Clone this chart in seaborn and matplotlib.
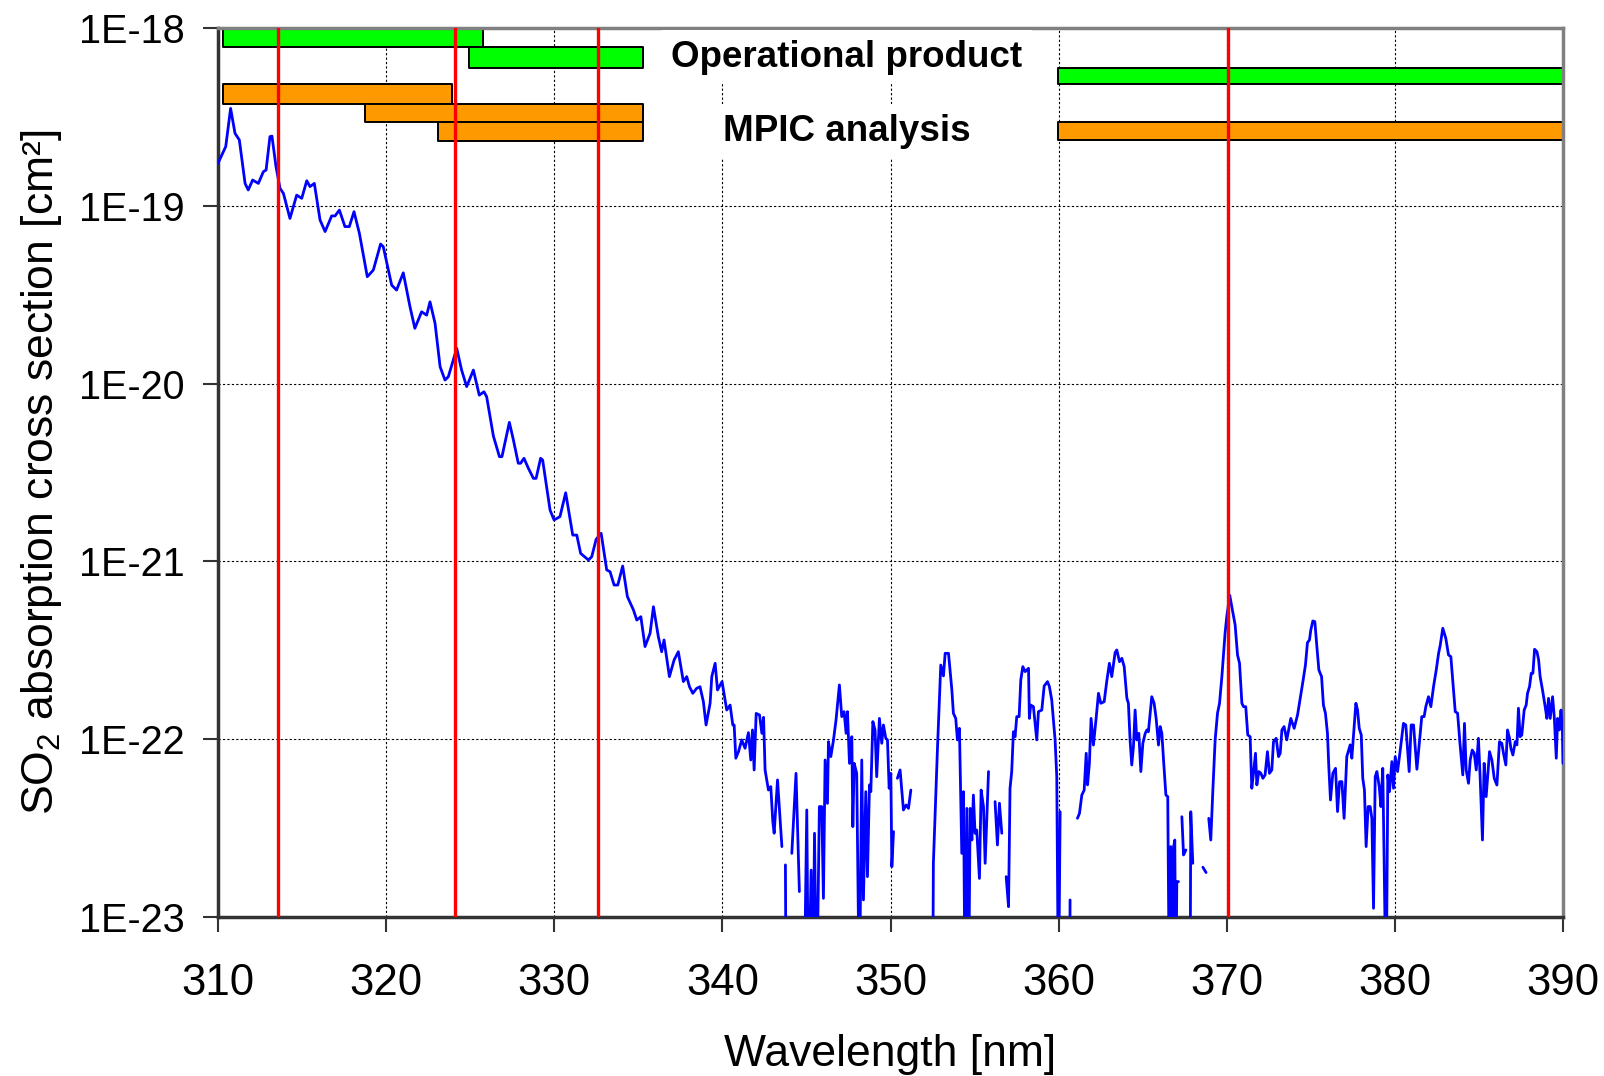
import numpy as np
import pandas as pd
import matplotlib
matplotlib.use("Agg")
import matplotlib.pyplot as plt
import seaborn as sns
from matplotlib.ticker import FixedLocator, FuncFormatter, NullLocator

NAN = np.nan
LOW = -23.5  # values that fall below the 1E-23 axis floor

# ---- SO2 absorption spectrum (wavelength in nm, log10 of cross section in cm^2); NaN = gap
wavelength_nm = [
    310.00, 310.32, 310.46, 310.75, 311.01, 311.27, 311.61, 311.80, 312.06, 312.40,
    312.70, 312.86, 313.09, 313.21, 313.45, 313.69, 313.89, 314.28, 314.68, 314.98,
    315.28, 315.47, 315.73, 316.07, 316.37, 316.76, 316.96, 317.22, 317.55, 317.81,
    318.09, 318.41, 318.88, 319.24, 319.67, 319.83, 320.33, 320.62, 321.02, 321.42,
    321.71, 322.11, 322.41, 322.61, 322.91, 323.21, 323.50, 323.70, 324.20, 324.49,
    324.79, 325.19, 325.54, 325.82, 325.98, 326.38, 326.74, 326.89, 327.33, 327.57,
    327.86, 328.00, 328.20, 328.46, 328.76, 328.92, 329.19, 329.31, 329.75, 329.99,
    330.34, 330.68, 331.10, 331.34, 331.57, 332.03, 332.23, 332.49, 332.79, 333.12,
    333.32, 333.56, 333.78, 334.07, 334.35, 334.71, 334.91, 335.15, 335.40, 335.70,
    335.90, 336.19, 336.39, 336.53, 336.85, 337.13, 337.38, 337.68, 337.88, 338.04,
    338.24, 338.47, 338.67, 338.87, 339.03, 339.27, 339.37, 339.57, 339.71, 339.98,
    340.26, 340.46, 340.62, 340.70, 340.80, 340.96, 341.15, 341.35, 341.55, 341.69,
    341.79, 341.89, 342.01, 342.21, 342.35, 342.45, 342.54, 342.74, 342.88, 343.00,
    343.08, 343.28, 343.54, NAN,
    343.75, 343.79, NAN,
    344.13, 344.38, 344.58, NAN,
    344.86, 345.02, 345.12, 345.28, 345.38, 345.48, 345.61, 345.77, 345.91, 346.01,
    346.11, 346.25, 346.31, 346.45, 346.61, 346.76, 346.96, 347.10, 347.24, 347.36,
    347.44, 347.56, 347.70, 347.76, 347.84, 347.99, 348.15, 348.29, 348.39, 348.53,
    348.63, 348.75, 348.83, 348.95, 349.08, 349.18, 349.34, 349.48, 349.58, 349.72,
    349.82, 349.92, 350.02, 350.08, 350.18, NAN,
    350.41, 350.57, 350.77, 350.93, 351.07, 351.21, NAN,
    352.51, 352.55, 352.79, 352.99, 353.15, 353.25, 353.45, 353.65, 353.74, 353.88,
    353.98, 354.10, 354.24, 354.34, 354.44, 354.54, 354.64, 354.74, 354.84, 354.93,
    355.03, 355.13, 355.29, 355.39, 355.53, 355.63, 355.83, NAN,
    356.22, 356.36, 356.48, 356.62, NAN,
    356.88, 357.02, 357.11, 357.21, 357.31, 357.41, 357.51, 357.65, 357.75, 357.87,
    358.01, 358.21, 358.26, 358.34, 358.50, 358.70, 358.80, 359.00, 359.14, 359.34,
    359.45, 359.59, 359.79, 359.89, 359.99, 360.09, NAN,
    360.66, 360.68, NAN,
    361.12, 361.24, 361.38, 361.52, 361.64, 361.72, 361.83, 361.93, 362.07, 362.23,
    362.37, 362.51, 362.71, 362.86, 363.02, 363.16, 363.36, 363.46, 363.62, 363.76,
    363.90, 364.06, 364.15, 364.25, 364.35, 364.45, 364.55, 364.65, 364.77, 364.89,
    365.01, 365.15, 365.25, 365.34, 365.54, 365.68, 365.80, 365.94, 366.04, 366.14,
    366.24, 366.38, 366.49, 366.59, 366.67, 366.77, 366.84, 366.91, 366.97, 367.03,
    367.13, NAN,
    367.33, 367.43, 367.57, NAN,
    367.82, 367.86, 367.98, NAN,
    368.58, 368.77, NAN,
    368.93, 369.05, 369.17, 369.31, 369.45, 369.57, 369.71, 369.90, 370.00, 370.18,
    370.30, 370.50, 370.64, 370.76, 370.90, 371.00, 371.13, 371.25, 371.39, 371.49,
    371.59, 371.71, 371.79, 371.91, 372.03, 372.15, 372.28, 372.42, 372.54, 372.68,
    372.78, 372.94, 373.08, 373.18, 373.28, 373.41, 373.57, 373.81, 374.01, 374.21,
    374.37, 374.53, 374.68, 374.80, 374.92, 375.00, 375.12, 375.24, 375.36, 375.48,
    375.64, 375.75, 375.87, 375.99, 376.07, 376.17, 376.31, 376.47, 376.59, 376.71,
    376.85, 376.98, 377.14, 377.34, 377.44, 377.68, 377.78, 377.88, 378.00, 378.09,
    378.19, 378.29, 378.41, 378.53, 378.63, 378.73, 378.83, 378.93, 379.07, 379.17,
    379.28, 379.36, 379.48, 379.58, 379.68, 379.82, 379.92, 380.02, 380.16, 380.32,
    380.51, 380.65, 380.85, 380.97, 381.11, 381.31, 381.45, 381.60, 381.74, 381.84,
    382.00, 382.14, 382.30, 382.46, 382.60, 382.70, 382.85, 383.03, 383.19, 383.33,
    383.45, 383.59, 383.73, 383.88, 384.04, 384.14, 384.24, 384.38, 384.48, 384.60,
    384.72, 384.84, 384.97, 385.07, 385.21, 385.31, 385.43, 385.63, 385.77, 385.91,
    386.07, 386.22, 386.36, 386.46, 386.60, 386.70, 386.82, 386.90, 387.02, 387.16,
    387.26, 387.35, 387.45, 387.55, 387.69, 387.81, 387.89, 388.01, 388.11, 388.21,
    388.31, 388.45, 388.55, 388.64, 388.78, 388.94, 389.04, 389.14, 389.24, 389.38,
    389.48, 389.60, 389.68, 389.78, 389.88, 389.96, 390.00,
]

log10_sigma = [
    -18.761, -18.696, -18.667, -18.452, -18.592, -18.630, -18.874, -18.911, -18.855, -18.874,
    -18.808, -18.799, -18.611, -18.608, -18.780, -18.902, -18.930, -19.071, -18.940, -18.958,
    -18.859, -18.892, -18.874, -19.080, -19.145, -19.057, -19.057, -19.024, -19.117, -19.117,
    -19.033, -19.155, -19.399, -19.361, -19.215, -19.230, -19.446, -19.474, -19.377, -19.568,
    -19.689, -19.596, -19.615, -19.540, -19.661, -19.905, -19.980, -19.961, -19.802, -19.924,
    -20.017, -19.924, -20.065, -20.046, -20.074, -20.295, -20.411, -20.411, -20.218, -20.317,
    -20.448, -20.448, -20.420, -20.476, -20.533, -20.533, -20.420, -20.430, -20.711, -20.767,
    -20.748, -20.614, -20.852, -20.852, -20.955, -20.992, -20.974, -20.876, -20.842, -21.048,
    -21.058, -21.133, -21.133, -21.026, -21.198, -21.273, -21.330, -21.311, -21.479, -21.404,
    -21.255, -21.423, -21.508, -21.442, -21.648, -21.554, -21.508, -21.676, -21.648, -21.704,
    -21.742, -21.714, -21.705, -21.789, -21.920, -21.798, -21.648, -21.573, -21.723, -21.676,
    -21.836, -21.808, -21.920, -21.920, -22.107, -22.070, -22.004, -22.051, -21.963, -22.117,
    -21.948, -22.173, -21.855, -21.864, -21.967, -21.877, -22.173, -22.286, -22.267, -22.464,
    -22.529, -22.229, -22.604, NAN,
    -22.707, LOW, NAN,
    -22.642, -22.192, -22.857, NAN,
    LOW, -22.398, LOW, -22.736, LOW, -22.529, LOW, -22.379, -22.379, -22.895,
    -22.117, -22.361, -22.014, -22.098, -22.004, -21.892, -21.695, -21.873, -21.845, -21.967,
    -21.845, -22.136, -21.986, -22.492, -22.136, -22.192, LOW, -22.117, -22.904, -22.295,
    -22.773, -22.257, -22.295, -21.901, -21.948, -22.211, -21.883, -22.023, -21.920, -21.995,
    -22.004, -22.276, -22.192, -22.717, -22.520, NAN,
    -22.220, -22.173, -22.398, -22.370, -22.389, -22.286, NAN,
    LOW, -22.698, -22.061, -21.583, -21.644, -21.517, -21.517, -21.723, -21.854, -21.883,
    -22.004, -21.939, -22.642, -22.295, LOW, -22.389, LOW, -22.389, -22.567, -22.314,
    -22.529, -22.511, -22.783, -22.286, -22.379, -22.698, -22.182, NAN,
    -22.351, -22.595, -22.360, -22.529, NAN,
    -22.773, -22.942, -22.276, -22.182, -21.958, -21.986, -21.873, -21.873, -21.667, -21.592,
    -21.620, -21.601, -21.883, -21.808, -21.817, -22.004, -21.845, -21.836, -21.701, -21.676,
    -21.704, -21.779, -22.004, -22.211, LOW, -22.408, NAN,
    LOW, -22.904, NAN,
    -22.445, -22.417, -22.314, -22.286, -22.079, -22.257, -22.136, -21.883, -22.033, -21.883,
    -21.742, -21.798, -21.789, -21.676, -21.573, -21.648, -21.513, -21.498, -21.564, -21.545,
    -21.592, -21.770, -21.798, -22.004, -22.145, -22.042, -21.836, -22.004, -21.967, -22.182,
    -22.023, -21.967, -21.948, -21.958, -21.761, -21.798, -21.883, -22.033, -21.929, -21.967,
    -22.117, -22.314, -22.323, LOW, -22.604, LOW, -22.604, -22.567, LOW, -22.801,
    -22.801, NAN,
    -22.436, -22.651, -22.623, NAN,
    LOW, -22.408, -22.698, NAN,
    -22.720, -22.750, NAN,
    -22.445, -22.567, -22.295, -22.004, -21.854, -21.798, -21.648, -21.404, -21.311, -21.191,
    -21.255, -21.358, -21.526, -21.573, -21.798, -21.817, -21.817, -21.976, -21.986, -22.276,
    -22.192, -22.079, -22.257, -22.182, -22.192, -22.220, -22.201, -22.070, -22.192, -22.173,
    -22.014, -21.995, -22.098, -22.079, -21.948, -21.929, -22.004, -21.883, -21.939, -21.864,
    -21.770, -21.676, -21.583, -21.457, -21.442, -21.386, -21.335, -21.339, -21.479, -21.611,
    -21.648, -21.808, -21.854, -21.967, -22.154, -22.342, -22.192, -22.164, -22.407, -22.239,
    -22.239, -22.445, -22.098, -22.032, -22.107, -21.798, -21.836, -21.939, -21.976, -22.220,
    -22.286, -22.604, -22.379, -22.379, -22.445, -22.951, -22.211, -22.182, -22.267, -22.379,
    -22.164, -22.679, LOW, -22.201, -22.295, -22.126, -22.276, -22.098, -22.182, -22.061,
    -21.911, -21.920, -22.182, -21.920, -21.920, -22.169, -22.023, -21.873, -21.873, -21.817,
    -21.761, -21.817, -21.704, -21.611, -21.517, -21.470, -21.376, -21.433, -21.526, -21.536,
    -21.676, -21.845, -21.854, -22.032, -22.201, -21.911, -22.173, -22.248, -22.117, -22.061,
    -22.079, -22.173, -21.995, -22.211, -22.567, -22.136, -22.323, -22.070, -22.117, -22.220,
    -22.258, -22.014, -22.023, -22.079, -22.145, -21.948, -21.995, -22.051, -22.089, -22.014,
    -22.032, -21.826, -21.986, -21.976, -21.836, -21.808, -21.742, -21.704, -21.629, -21.629,
    -21.494, -21.508, -21.554, -21.648, -21.723, -21.817, -21.883, -21.770, -21.883, -21.761,
    -21.873, -22.107, -21.883, -21.948, -21.836, -21.929, -22.136,
]

# ---- fitting windows (bars)
bar_start_nm = [310.27, 324.93, 359.99, 310.27, 318.77, 323.07, 359.99]
bar_end_nm = [325.78, 335.28, 390.05, 323.92, 335.28, 335.28, 390.05]
bar_log_bottom = [-18.109, -18.223, -18.317, -18.427, -18.527, -18.636, -18.632]
bar_log_top = [-18.006, -18.109, -18.223, -18.317, -18.427, -18.527, -18.527]
bar_group = ["Operational product"] * 3 + ["MPIC analysis"] * 4
group_colors = {"Operational product": "#00FF00", "MPIC analysis": "#FF9900"}

# ---- selected wavelengths (red lines)
red_lines_nm = [313.55, 324.10, 332.63, 370.10]

# ---- labels
label_texts = ["Operational product", "MPIC analysis"]
label_x_nm = [347.4, 347.4]
label_log_y = [-18.218, -18.633]

x_ticks = [310, 320, 330, 340, 350, 360, 370, 380, 390]
y_decades = [-23, -22, -21, -20, -19, -18]

# ------------------------------------------------------------------
sns.set_theme(style="white")
plt.rcParams["font.family"] = ["Liberation Sans", "DejaVu Sans"]
plt.rcParams["text.color"] = "black"
plt.rcParams["mathtext.fontset"] = "custom"
plt.rcParams["mathtext.rm"] = "Liberation Sans"
plt.rcParams["mathtext.it"] = "Liberation Sans:italic"
plt.rcParams["mathtext.bf"] = "Liberation Sans:bold"

wl = np.array(wavelength_nm, dtype=float)
lg = np.array(log10_sigma, dtype=float)
seg = np.cumsum(np.isnan(lg))
df = pd.DataFrame({"wl": wl, "sigma": 10.0 ** lg, "seg": seg}).dropna()

fig = plt.figure(figsize=(16.04, 10.76), dpi=100)
ax = fig.add_axes([218 / 1604, 1 - 917 / 1076, 1345 / 1604, 889 / 1076])
ax.set_yscale("log")

sns.lineplot(data=df, x="wl", y="sigma", units="seg", estimator=None, sort=False,
             color="#0000FF", linewidth=2.0, ax=ax, legend=False, zorder=3)

# bars
for s, e, b, t, g in zip(bar_start_nm, bar_end_nm, bar_log_bottom, bar_log_top, bar_group):
    ax.broken_barh([(s, e - s)], (10.0 ** b, 10.0 ** t - 10.0 ** b),
                   facecolors=group_colors[g], edgecolors="black", linewidth=1.4, zorder=2.5)

for x in red_lines_nm:
    ax.axvline(x, color="#FF0000", linewidth=2.4, zorder=4)

for txt, x, y in zip(label_texts, label_x_nm, label_log_y):
    ax.text(x, 10.0 ** y, txt, ha="center", va="baseline", fontsize=26.5, fontweight="bold",
            color="black", zorder=5,
            bbox=dict(facecolor="white", edgecolor="none", pad=7))

ax.set_xlim(310, 390)
ax.set_ylim(1e-23, 1e-18)
ax.xaxis.set_major_locator(FixedLocator(x_ticks))
ax.yaxis.set_major_locator(FixedLocator([10.0 ** d for d in y_decades]))
ax.yaxis.set_minor_locator(NullLocator())
ax.yaxis.set_major_formatter(FuncFormatter(lambda v, p: "1E%d" % int(round(np.log10(v)))))
ax.xaxis.set_major_formatter(FuncFormatter(lambda v, p: "%d" % v))

ax.grid(True, which="major", color="black", linestyle=(0, (2, 2)), linewidth=0.8, zorder=0)
ax.set_axisbelow(True)

ax.tick_params(axis="both", which="major", direction="out", length=11, width=1.5,
               color="#333333", labelcolor="black", left=True, bottom=True)
ax.tick_params(axis="x", labelsize=31.5, pad=22)
ax.tick_params(axis="y", labelsize=28.5, pad=13)

for side in ["left", "bottom"]:
    ax.spines[side].set_color("#333333")
    ax.spines[side].set_linewidth(2.5)
for side in ["top", "right"]:
    ax.spines[side].set_color("#808080")
    ax.spines[side].set_linewidth(2.5)

ax.set_xlabel("Wavelength [nm]", fontsize=32, labelpad=22, color="black")
ax.set_ylabel("SO$_2$ absorption cross section [cm²]", fontsize=32, labelpad=11, color="black")

fig.savefig("out.png", dpi=100, facecolor="white")
